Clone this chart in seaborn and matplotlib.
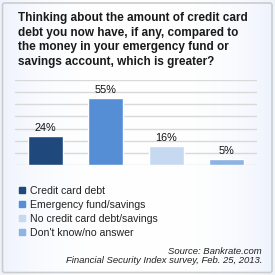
import numpy as np
import pandas as pd
import matplotlib
matplotlib.use('Agg')
import matplotlib.pyplot as plt
from matplotlib.patches import FancyBboxPatch, Patch
import seaborn as sns

categories = ["Credit card debt", "Emergency fund/savings",
              "No credit card debt/savings", "Don't know/no answer"]
values = [24, 55, 16, 5]
colors = ["#1F497D", "#558ED5", "#C6D9F1", "#8DB3E2"]
title = ("Thinking about the amount of credit card\n"
         "debt you now have, if any, compared to\n"
         "the money in your emergency fund or\n"
         "savings account, which is greater?")
source = ["Source: Bankrate.com",
          "Financial Security Index survey, Feb. 25, 2013."]

W = H = 275
df = pd.DataFrame({"category": categories, "value": values})

sns.set_style("white")
plt.rcParams['font.family'] = ['Liberation Sans', 'DejaVu Sans']

fig = plt.figure(figsize=(W / 100, H / 100), dpi=100)

# background: white in the middle, faint blue at the sides
bg = fig.add_axes([0, 0, 1, 1], zorder=-10)
x = np.linspace(-1, 1, 300)
grad = np.abs(x) ** 3
c0 = np.array([1.0, 1.0, 1.0])
c1 = np.array([0.93, 0.95, 0.99])
img = c0[None, :] + grad[:, None] * (c1 - c0)[None, :]
bg.imshow(img[None, :, :], aspect='auto', extent=[0, 1, 0, 1])
bg.set_xlim(0, 1)
bg.set_ylim(0, 1)
bg.axis('off')
bg.add_patch(FancyBboxPatch((2.5 / W, 2.5 / H), 269.5 / W, 269.5 / H,
                            boxstyle="round,pad=0,rounding_size=0.008",
                            fc='none', ec='#cccccc', lw=1.2,
                            transform=bg.transAxes))

# bar area
ax = fig.add_axes([15 / W, 1 - 165 / H, 242 / W, 85 / H])
ax.patch.set_alpha(0)
sns.barplot(data=df, x="category", y="value", hue="category",
            palette=colors, legend=False, width=0.58, saturation=1, ax=ax)
ax.set_ylim(0, 70)
ax.set_yticks(np.arange(0, 71, 10))
ax.yaxis.grid(True, color='#d9d9d9', lw=1)
ax.set_axisbelow(True)
ax.set_xticks([])
ax.set_yticklabels([])
ax.tick_params(left=False)
ax.set(xlabel="", ylabel="")
sns.despine(ax=ax, left=True, bottom=True)
for i, v in enumerate(values):
    ax.annotate(f"{v}%", (i, v), xytext=(0, 2), textcoords='offset points',
                ha='center', va='bottom', fontsize=7.8, color='#111111')

fig.text(18 / W, 1 - 12.5 / H, title, ha='left', va='top', fontsize=8.5,
         fontweight='bold', color='#1a1a1a', linespacing=1.27)

handles = [Patch(color=c, label=l) for c, l in zip(colors, categories)]
fig.legend(handles=handles, loc='upper left', bbox_to_anchor=(19 / W, 1 - 185.5 / H),
           frameon=False, fontsize=7.6, handlelength=0.55, handleheight=0.55,
           handletextpad=0.5, labelspacing=0.38, borderpad=0, borderaxespad=0,
           labelcolor='#222222')

fig.text(262 / W, 1 - 251 / H, source[0], ha='right', va='center',
         fontsize=6.8, style='italic', color='#222222')
fig.text(262 / W, 1 - 260.5 / H, source[1], ha='right', va='center',
         fontsize=6.8, style='italic', color='#222222')

fig.savefig("out.png", dpi=100)
